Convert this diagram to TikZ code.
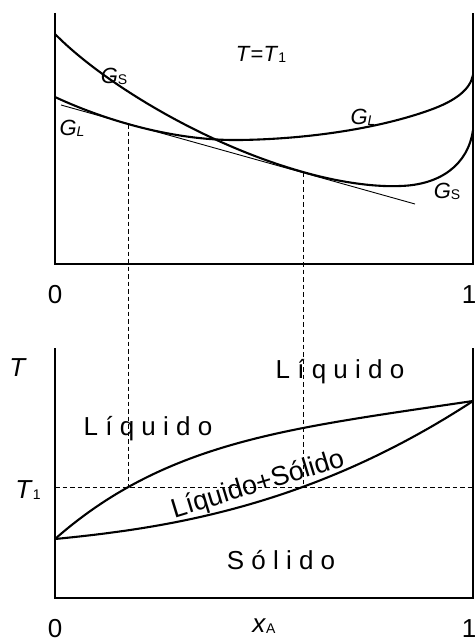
\documentclass[tikz,border=0pt]{standalone}
\usepackage{fontspec}
\setmainfont{Liberation Sans}
\usepackage{tikz}
\usetikzlibrary{calc}
\definecolor{axiscolor}{RGB}{0, 0, 0}
\definecolor{labelcolor}{RGB}{0, 0, 0}
\tikzset{
axisline/.style={
  draw=axiscolor,
  line width=1.3pt
},
curveline/.style={
  draw=axiscolor,
  line width=2.1pt
},
tangentline/.style={
  draw=axiscolor,
  line width=0.9pt
},
guideline/.style={
  draw=axiscolor,
  line width=0.9pt,
  dash pattern=on 4.5pt off 3pt
},
ticklabel/.style={
  font=\fontsize{26}{28}\selectfont,
  text=labelcolor,
  inner sep=0pt
},
curvelabel/.style={
  font=\fontsize{22}{24}\selectfont,
  text=labelcolor,
  inner sep=0pt
},
regionlabel/.style={
  font=\fontsize{26}{28}\selectfont,
  text=labelcolor,
  inner sep=0pt
}
}
\newcommand{\smallsub}[1]{\raisebox{-1pt}{\fontsize{14}{14}\selectfont #1}}

\begin{document}
\begin{tikzpicture}[x=1pt,y=-1pt]
  \useasboundingbox (0,0) rectangle (476,642);

  % energia livre a T = T1
  \coordinate (gtop0) at (55,13);
  \coordinate (gbot0) at (55,264);
  \coordinate (gbot1) at (473,264);
  \coordinate (gtop1) at (473,13);
  \draw[axisline] (gtop0) -- (gbot0) -- (gbot1) -- (gtop1);

  \draw[curveline] (55,34) .. controls (100,80) and (200,143) .. (303,172)
    .. controls (345,184) and (380,187) .. (400,186)
    .. controls (440,185) and (468,165) .. (473,130);
  \draw[curveline] (55,97) .. controls (100,118) and (170,141) .. (240,140)
    .. controls (310,139) and (380,128) .. (430,110)
    .. controls (455,101) and (470,90) .. (473,75);

  \coordinate (tg0) at (61,105);
  \coordinate (tg1) at (415,204);
  \draw[tangentline] (tg0) -- (tg1);

  \node[curvelabel] (gs1) at (114,76) {\textit{G}\smallsub{S}};
  \node[curvelabel] (gl1) at (72,128) {\textit{G\smallsub{L}}};
  \node[curvelabel] (gl2) at (363,117) {\textit{G\smallsub{L}}};
  \node[curvelabel] (gs2) at (447,191) {\textit{G}\smallsub{S}};
  \node[curvelabel] (teq) at (261,54) {\textit{T}=\textit{T}\smallsub{1}};

  \node[ticklabel] (zero1) at (55,295) {0};
  \node[ticklabel] (one1) at (469,295) {1};

  % diagrama de fases
  \coordinate (ptop0) at (55,348);
  \coordinate (pbot0) at (55,598);
  \coordinate (pbot1) at (473,598);
  \coordinate (ptop1) at (473,348);
  \draw[axisline] (ptop0) -- (pbot0) -- (pbot1) -- (ptop1);

  \draw[curveline] plot[domain=0:1, samples=90, variable=\t]
    ({55+418*\t}, {539-138*(0.556*(1-(1-\t)^4)+0.444*\t)});
  \draw[curveline] plot[domain=0:1, samples=90, variable=\t]
    ({55+418*\t}, {539-138*(0.3*\t+0.7*\t^2.4)});

  \coordinate (t1a) at (55,487);
  \coordinate (t1b) at (473,487);
  \draw[guideline] (t1a) -- (t1b);

  \coordinate (xl) at (128,487);
  \coordinate (xs) at (303,487);
  \coordinate (xlg) at (128,124);
  \coordinate (xsg) at (303,172);
  \draw[guideline] (xlg) -- (xl);
  \draw[guideline] (xsg) -- (xs);

  \node[ticklabel] (tax) at (18,368) {\textit{T}};
  \node[ticklabel] (t1) at (28,490) {\textit{T}\smallsub{1}};
  \node[ticklabel] (zero2) at (55,629) {0};
  \node[ticklabel] (xa) at (264,626) {\textit{x}\smallsub{A}};
  \node[ticklabel] (one2) at (469,629) {1};

  \node[regionlabel] (liq1) at (148,429) {L í q u i d o};
  \node[regionlabel] (liq2) at (340,372) {L í q u i d o};
  \node[regionlabel] (sol) at (281,560) {S ó l i d o};
  \node[regionlabel, font=\fontsize{27}{29}\selectfont, rotate=17] (mix)
    at (258,485) {Líquido+Sólido};
\end{tikzpicture}
\end{document}
